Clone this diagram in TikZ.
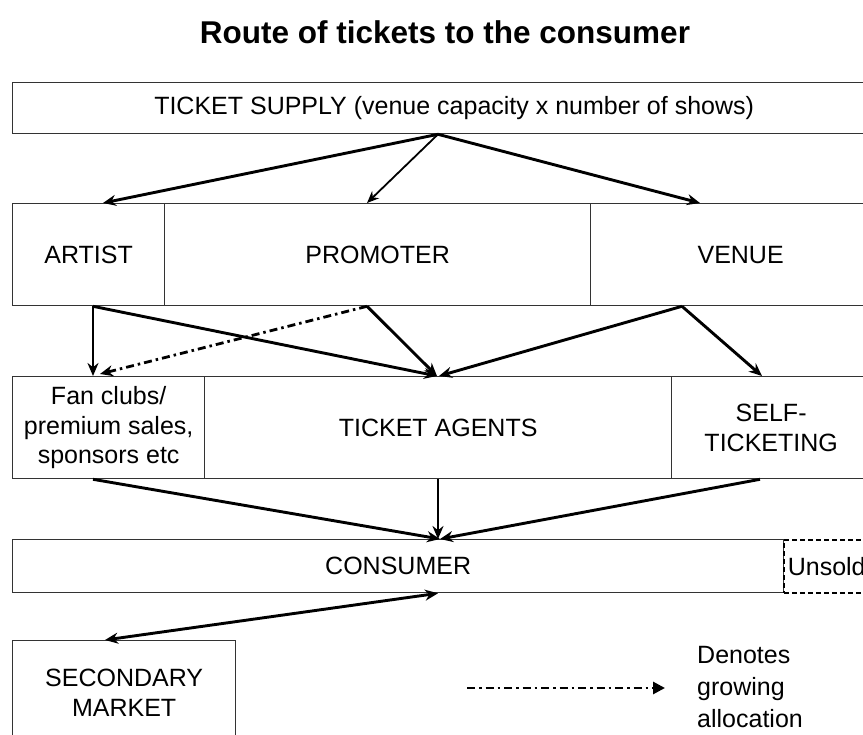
\documentclass[tikz,border=0pt]{standalone}
\usepackage{fontspec}
\setmainfont{Liberation Sans}
\usetikzlibrary{arrows.meta,calc}
\begin{document}
\begin{tikzpicture}[x=1pt,y=-1pt,
  box/.style={draw=black!80, line width=1.3pt, anchor=north west, inner sep=2pt, align=center, font=\fontsize{25}{29.5}\selectfont},
  arr/.style={line width=2.9pt, -{Stealth[length=13pt,width=11pt]}},
  thinarr/.style={line width=1.8pt, -{Stealth[length=12pt,width=10pt]}},
  dblarr/.style={line width=2.9pt, {Stealth[length=13pt,width=11pt]}-{Stealth[length=13pt,width=11pt]}},
  dashdot/.style={line width=2.8pt, dash pattern=on 8pt off 4pt on 2.5pt off 4pt},
]
\useasboundingbox (0,0) rectangle (863,735);
\clip (0,0) rectangle (863,735);
\node[font=\bfseries\fontsize{31.5}{38}\selectfont] (title) at (445,32) {Route of tickets to the consumer};
\node[box, minimum width=883pt, minimum height=51pt] (supply) at (12,82) {TICKET SUPPLY (venue capacity x number of shows)};
% row 2
\node[box, minimum width=152pt, minimum height=102pt] (artist) at (12,203) {ARTIST};
\node[box, minimum width=426pt, minimum height=102pt] (promoter) at (164,203) {PROMOTER};
\node[box, minimum width=300pt, minimum height=102pt] (venue) at (590,203) {VENUE};
% row 3
\node[box, minimum width=192pt, minimum height=102pt] (fan) at (12,376) {Fan clubs/\\premium sales,\\sponsors etc};
\node[box, minimum width=467pt, minimum height=102pt] (agents) at (204,376) {TICKET AGENTS};
\node[box, minimum width=199pt, minimum height=102pt] (self) at (671,376) {SELF-\\TICKETING};
% consumer
\node[box, minimum width=771pt, minimum height=53pt] (consumer) at (12,539) {CONSUMER};
\node[box, draw=black, line width=1.6pt, dash pattern=on 5pt off 3pt, minimum height=53pt, text width=100pt, align=left, inner sep=4pt] (unsold) at (783,539) {Unsold};
% secondary
\node[box, minimum width=223pt, minimum height=104pt] (secondary) at (12,640) {SECONDARY\\MARKET};
% arrows top
\draw[arr] ($(supply.south west)+(426,0)$) -- ($(artist.north west)+(91,0)$);
\draw[thinarr] ($(supply.south west)+(426,0)$) -- ($(promoter.north west)+(203,0)$);
\draw[arr] ($(supply.south west)+(426,0)$) -- ($(venue.north west)+(110,0)$);
% row 2 -> row 3
\draw[arr] ($(artist.south west)+(81,0)$) -- ($(fan.north west)+(81,0)$);
\draw[arr] ($(artist.south west)+(81,0)$) -- ($(agents.north west)+(233,0)$);
\draw[arr] ($(promoter.south west)+(203,0)$) -- ($(agents.north west)+(233,0)$);
\draw[dashdot, -{Stealth[length=13pt,width=11pt]}] ($(promoter.south west)+(203,0)$) -- ($(fan.north west)+(88,-2)$);
\draw[arr] ($(venue.south west)+(92,0)$) -- ($(agents.north west)+(235,0)$);
\draw[arr] ($(venue.south west)+(92,0)$) -- ($(self.north west)+(91,0)$);
% row 3 -> consumer
\draw[arr] ($(fan.south west)+(81,0)$) -- ($(consumer.north west)+(428,0)$);
\draw[arr] ($(agents.south west)+(234,0)$) -- ($(consumer.north west)+(426,0)$);
\draw[arr] ($(self.south west)+(89,0)$) -- ($(consumer.north west)+(428,0)$);
% consumer <-> secondary
\draw[dblarr] ($(consumer.south west)+(426,0)$) -- ($(secondary.north west)+(93,0)$);
% legend
\coordinate (legA) at (467,688);
\coordinate (legB) at (665,688);
\draw[dashdot, -{Triangle[length=12pt,width=12pt]}] (legA) -- (legB);
\node[anchor=west, align=left, inner sep=0pt, font=\fontsize{25}{32}\selectfont] (legtext) at (697,687) {Denotes\\growing\\allocation};
\end{tikzpicture}
\end{document}
